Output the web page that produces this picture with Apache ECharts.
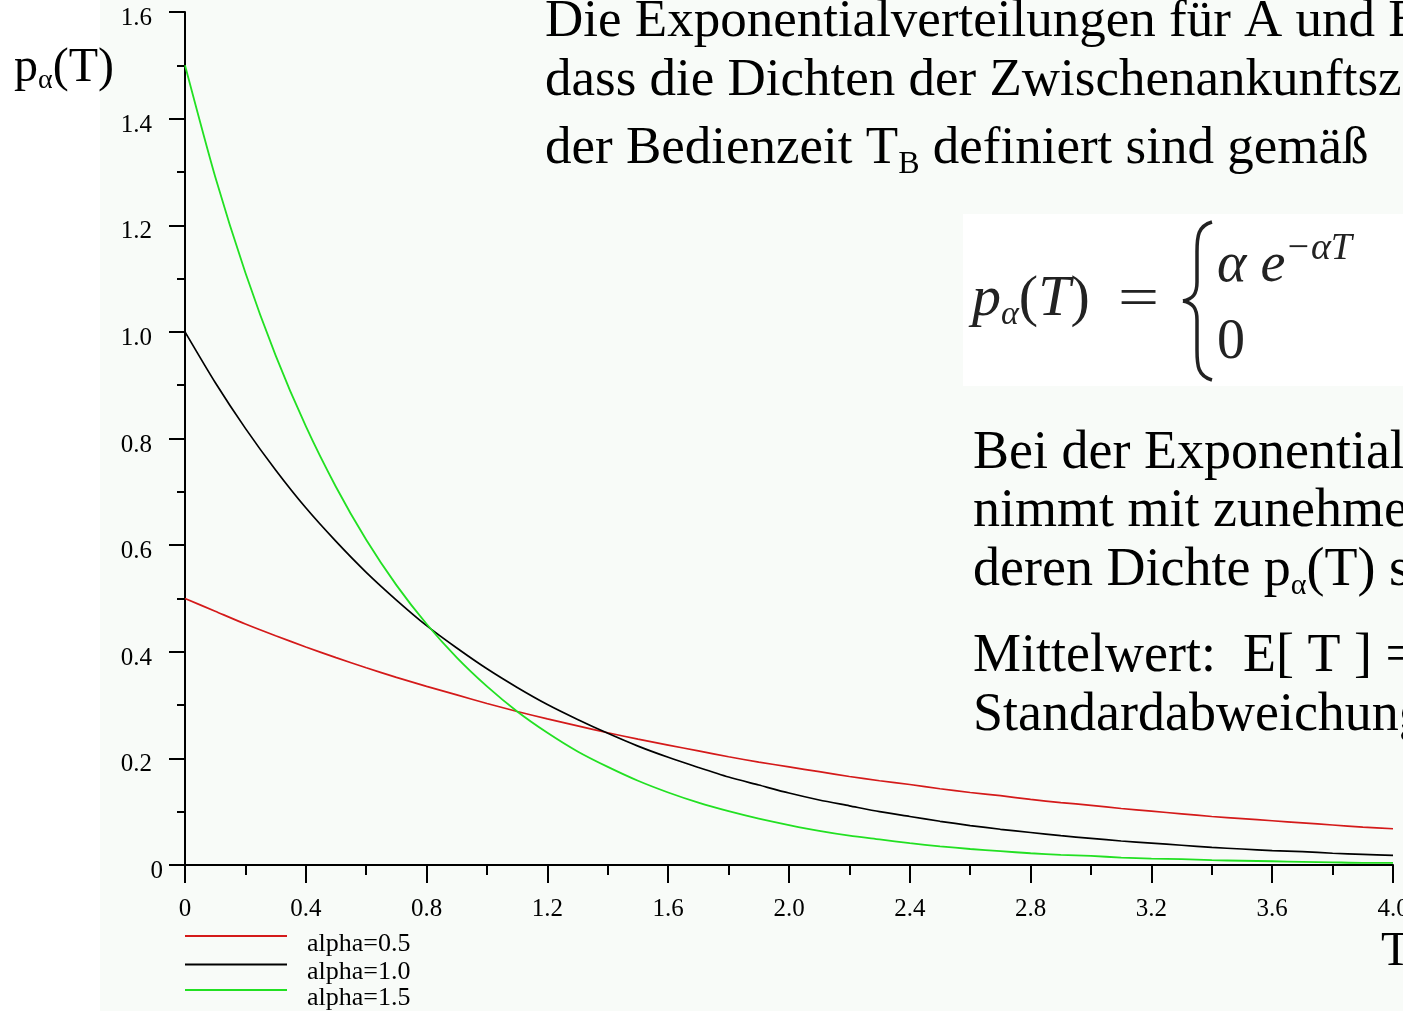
<!DOCTYPE html>
<html>
<head>
<meta charset="utf-8">
<script src="https://cdn.jsdelivr.net/npm/echarts@6/dist/echarts.min.js"></script>
<style>
html,body{margin:0;padding:0;background:#fff;}
#chart{width:1403px;height:1011px;}
</style>
</head>
<body>
<div id="chart"></div>
<script>
// T values (x axis), read every 0.1
const tValues = [0,0.1,0.2,0.3,0.4,0.5,0.6,0.7,0.8,0.9,1.0,1.1,1.2,1.3,1.4,1.5,1.6,1.7,1.8,1.9,2.0,
                 2.1,2.2,2.3,2.4,2.5,2.6,2.7,2.8,2.9,3.0,3.1,3.2,3.3,3.4,3.5,3.6,3.7,3.8,3.9,4.0];
// density values
const alpha05 = [0.500,0.476,0.452,0.430,0.409,0.389,0.370,0.352,0.335,0.319,0.303,0.288,0.274,0.261,0.248,0.236,0.225,0.214,0.203,0.193,0.184,
                 0.175,0.166,0.158,0.151,0.143,0.136,0.130,0.123,0.117,0.112,0.106,0.101,0.096,0.091,0.087,0.083,0.079,0.075,0.071,0.068];
const alpha10 = [1.000,0.905,0.819,0.741,0.670,0.607,0.549,0.497,0.449,0.407,0.368,0.333,0.301,0.273,0.247,0.223,0.202,0.183,0.165,0.150,0.135,
                 0.122,0.111,0.100,0.091,0.082,0.074,0.067,0.061,0.055,0.050,0.045,0.041,0.037,0.033,0.030,0.027,0.025,0.022,0.020,0.018];
const alpha15 = [1.500,1.291,1.111,0.956,0.823,0.709,0.610,0.525,0.452,0.389,0.335,0.288,0.248,0.213,0.184,0.158,0.136,0.117,0.101,0.087,0.075,
                 0.064,0.055,0.048,0.041,0.035,0.030,0.026,0.022,0.019,0.017,0.014,0.012,0.011,0.009,0.008,0.007,0.006,0.005,0.004,0.004];
const seriesNames = ['alpha=0.5','alpha=1.0','alpha=1.5'];
const seriesColors = ['#d41a1a','#000000','#22e022'];

const SERIF = '"Liberation Serif", "Times New Roman", serif';
const pair = arr => tValues.map((t,i)=>[t,arr[i]]);

const chart = echarts.init(document.getElementById('chart'), null, {renderer:'canvas'});

function txt(x, y, text, size, extra) {
  return {
    type:'text', x:x, y:y, z:100,
    style: Object.assign({text:text, fontFamily:SERIF, fontSize:size, fill:'#000', verticalAlign:'middle', align:'left'}, extra||{})
  };
}
function bez(x1,y1,c1x,c1y,c2x,c2y,x2,y2){
  return {type:'bezierCurve', z:100, shape:{x1:x1,y1:y1,cpx1:c1x,cpy1:c1y,cpx2:c2x,cpy2:c2y,x2:x2,y2:y2}, style:{fill:null, stroke:'#222', lineWidth:3.5}};
}
function seg(x1,y1,x2,y2){
  return {type:'line', z:100, shape:{x1:x1,y1:y1,x2:x2,y2:y2}, style:{stroke:'#222', lineWidth:3.5}};
}
function legendFor(i, top){
  return {
    orient:'vertical', left:185, top:top, padding:0,
    itemWidth:102, itemHeight:2, icon:'rect',
    formatter: n => '{s|}{t|' + n + '}{h|}',
    textStyle:{fontFamily:SERIF, fontSize:26, color:'#000',
      rich:{
        s:{width:15, height:42, lineHeight:42},
        t:{fontFamily:SERIF, fontSize:26, lineHeight:26, verticalAlign:'bottom', color:'#000'},
        h:{width:0, lineHeight:42}
      }},
    data:[seriesNames[i]]
  };
}

const HEAD = 53;
const BODY = 54;
const yRich = {
  n:{fontFamily:SERIF, fontSize:25, lineHeight:25, verticalAlign:'bottom', color:'#000'},
  sp:{width:11, lineHeight:38},
  sp0:{width:0, lineHeight:38}
};

const option = {
  backgroundColor:'#ffffff',
  animation:false,
  grid:{left:185, right:10, top:12, bottom:146, outerBoundsMode:'none', containLabel:false},
  xAxis:{
    type:'value', min:0, max:4, interval:0.4,
    axisLine:{show:true, onZero:false, lineStyle:{color:'#000', width:2}},
    axisTick:{show:true, length:18, lineStyle:{color:'#000', width:2}},
    minorTick:{show:true, splitNumber:2, length:10, lineStyle:{color:'#000', width:2}},
    splitLine:{show:false},
    axisLabel:{margin:32, color:'#000', fontFamily:SERIF, fontSize:25,
      formatter:v => v===0 ? '0' : v.toFixed(1)}
  },
  yAxis:{
    type:'value', min:0, max:1.6, interval:0.2,
    axisLine:{show:true, lineStyle:{color:'#000', width:2}},
    axisTick:{show:true, length:16, lineStyle:{color:'#000', width:2}},
    minorTick:{show:true, splitNumber:2, length:8, lineStyle:{color:'#000', width:2}},
    splitLine:{show:false},
    axisLabel:{margin:22, color:'#000', fontFamily:SERIF, fontSize:25, rich:yRich,
      formatter:v => v===0 ? '{n|0}{sp0|}' : '{n|' + v.toFixed(1) + '}{sp|}'}
  },
  legend:[legendFor(0, 915), legendFor(1, 943.5), legendFor(2, 969)],
  series:[
    {name:seriesNames[0], type:'line', data:pair(alpha05), symbol:'none', smooth:0.25, lineStyle:{color:seriesColors[0], width:1.7}, itemStyle:{color:seriesColors[0]}},
    {name:seriesNames[1], type:'line', data:pair(alpha10), symbol:'none', smooth:0.25, lineStyle:{color:seriesColors[1], width:1.7}, itemStyle:{color:seriesColors[1]}},
    {name:seriesNames[2], type:'line', data:pair(alpha15), symbol:'none', smooth:0.25, lineStyle:{color:seriesColors[2], width:1.8}, itemStyle:{color:seriesColors[2]}}
  ],
  graphic:[
    {type:'rect', z:-100, shape:{x:100, y:0, width:1303, height:1011}, style:{fill:'#f8fbf8'}},
    {type:'rect', z:-50, shape:{x:963, y:214, width:440, height:172}, style:{fill:'#ffffff'}},
    // axis names
    {type:'text', x:14, y:68, z:100, style:{text:'{m|p}{s|α}{m|(T)}', fontFamily:SERIF, verticalAlign:'middle',
      rich:{m:{fontSize:48, fontFamily:SERIF, lineHeight:54, fill:'#000'}, s:{fontSize:28, fontFamily:SERIF, lineHeight:28, verticalAlign:'bottom', fill:'#000'}}}},
    txt(1381, 952, 'T', 48),
    // heading
    txt(545, 22, 'Die Exponentialverteilungen für A und B', HEAD),
    txt(545, 81, 'dass die Dichten der Zwischenankunftszeit T', HEAD),
    {type:'text', x:545, y:149, z:100, style:{text:'{m|der Bedienzeit T}{s|B}{m| definiert sind gemäß}', fontFamily:SERIF, verticalAlign:'middle',
      rich:{m:{fontSize:HEAD, fontFamily:SERIF, lineHeight:64, fill:'#000'}, s:{fontSize:32, fontFamily:SERIF, lineHeight:32, verticalAlign:'bottom', fill:'#000'}}}},
    // formula
    {type:'text', x:972, y:300, z:100, style:{text:'{m|p}{s|α}{r|(}{m|T}{r|)}', verticalAlign:'middle',
      rich:{m:{fontSize:58, fontFamily:SERIF, fontStyle:'italic', lineHeight:64, fill:'#222'},
            r:{fontSize:58, fontFamily:SERIF, lineHeight:64, fill:'#222'},
            s:{fontSize:34, fontFamily:SERIF, fontStyle:'italic', lineHeight:34, verticalAlign:'bottom', fill:'#222'}}}},
    Object.assign(txt(1118, 301, '=', 56, {fill:'#222'}), {scaleX:1.3}),
    bez(1212,222, 1198,226, 1197,236, 1197,252),
    seg(1197,252, 1197,282),
    bez(1197,282, 1197,294, 1193,299, 1183,301),
    bez(1183,301, 1193,303, 1197,308, 1197,320),
    seg(1197,320, 1197,350),
    bez(1197,350, 1197,366, 1198,376, 1212,380),
    {type:'text', x:1217, y:266, z:100, style:{text:'{m|α e}{s|−αT}', verticalAlign:'middle',
      rich:{m:{fontSize:56, fontFamily:SERIF, fontStyle:'italic', lineHeight:72, fill:'#222'},
            s:{fontSize:38, fontFamily:SERIF, fontStyle:'italic', lineHeight:38, verticalAlign:'top', fill:'#222'}}}},
    txt(1217, 343, '0', 56, {fill:'#222'}),
    // lower text block
    txt(973, 454, 'Bei der Exponentialverteilung', BODY),
    txt(973, 512, 'nimmt mit zunehmendem T', BODY),
    {type:'text', x:973, y:571, z:100, style:{text:'{m|deren Dichte p}{s|α}{m|(T) stark ab}', fontFamily:SERIF, verticalAlign:'middle',
      rich:{m:{fontSize:BODY, fontFamily:SERIF, lineHeight:60, fill:'#000'}, s:{fontSize:30, fontFamily:SERIF, lineHeight:30, verticalAlign:'bottom', fill:'#000'}}}},
    txt(973, 657, 'Mittelwert:  E[ T ] = 1/α', BODY),
    txt(973, 716, 'Standardabweichung', BODY)
  ]
};
chart.setOption(option);
</script>
</body>
</html>
